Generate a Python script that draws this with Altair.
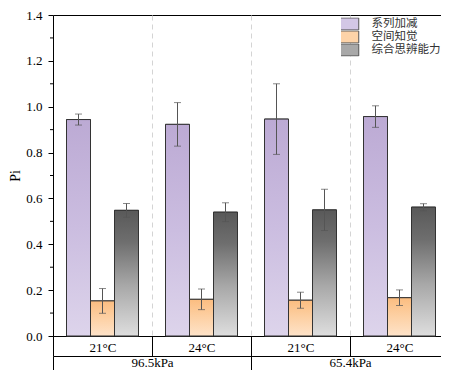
import altair as alt
import pandas as pd

groups = ["96.5kPa|21°C", "96.5kPa|24°C", "65.4kPa|21°C", "65.4kPa|24°C"]
pressures = ["96.5kPa", "65.4kPa"]
series = ["系列加减", "空间知觉", "综合思辨能力"]
means = {
    "系列加减": [0.944, 0.923, 0.946, 0.957],
    "空间知觉": [0.153, 0.160, 0.156, 0.167],
    "综合思辨能力": [0.548, 0.540, 0.550, 0.562],
}
errs = {
    "系列加减": [0.024, 0.095, 0.154, 0.047],
    "空间知觉": [0.054, 0.045, 0.035, 0.034],
    "综合思辨能力": [0.030, 0.041, 0.090, 0.015],
}
major_ticks = [0.0, 0.2, 0.4, 0.6, 0.8, 1.0, 1.2, 1.4]
minor_ticks = [0.1, 0.3, 0.5, 0.7, 0.9, 1.1, 1.3]

rows = []
for s in series:
    for g, m, e in zip(groups, means[s], errs[s]):
        rows.append({"group": g, "series": s, "mean": m, "lo": m - e, "hi": m + e})
df = pd.DataFrame(rows)
minor_df = pd.DataFrame({"v": minor_ticks})
press_df = pd.DataFrame({"pressure": pressures})

SERIF = "Liberation Serif"
LEGEND_FONT = "Liberation Serif, Noto Sans CJK SC"

y_axis = alt.Axis(values=major_ticks, format=".1f", title="Pi", titleFont=SERIF,
                  titleFontSize=14, titleFontWeight="normal", titleColor="black",
                  titlePadding=3, labelFont=SERIF, labelFontSize=13, labelColor="black",
                  labelPadding=6, tickSize=5, tickColor="black", domainColor="black",
                  grid=False)
y_scale = alt.Scale(domain=[0, 1.4], nice=False, zero=True)

x_axis = alt.Axis(orient="bottom", title=None, tickBand="extent", tickSize=20,
                  tickColor="black", domainColor="black", labelPadding=-15,
                  labelAngle=0, labelFont=SERIF, labelFontSize=13, labelColor="black",
                  labelExpr="split(datum.value, '|')[1]", grid=True,
                  gridColor="#d4d4d4", gridDash=[5, 4], gridWidth=1)
x_scale = alt.Scale(domain=groups, paddingInner=0, paddingOuter=0)
x_enc = alt.X("group:N", scale=x_scale, axis=x_axis)
xo_enc = alt.XOffset("series:N", scale=alt.Scale(domain=series, paddingInner=0, paddingOuter=0.5625))

base = alt.Chart(df)

legend_bars = base.mark_bar(stroke="#333333", strokeWidth=1).encode(
    x=x_enc, xOffset=xo_enc,
    y=alt.Y("mean:Q", scale=y_scale, axis=y_axis),
    color=alt.Color("series:N", scale=alt.Scale(domain=series,
                    range=["#d3c7e6", "#fdd3a8", "#a8a8a8"]),
                    legend=alt.Legend(title=None, orient="none", legendX=288, legendY=2.5,
                                      symbolType="M-4,-2H4V2H-4Z", symbolSize=36,
                                      symbolStrokeColor="#555555", symbolStrokeWidth=1,
                                      labelFont=LEGEND_FONT, labelFontSize=11.5,
                                      labelColor="#333333",
                                      labelOffset=19, rowPadding=0, padding=0,
                                      clipHeight=12.9)),
)

grads = {
    "系列加减": [("#bcaad4", 0), ("#cbbde0", 0.5), ("#ddd4eb", 1)],
    "空间知觉": [("#fbbd80", 0), ("#fdd1a5", 0.5), ("#fee3c9", 1)],
    "综合思辨能力": [("#595959", 0), ("#6e6e6e", 0.25), ("#a8a8a8", 0.6), ("#dedede", 1)],
}

grad_layers = []
for s in series:
    g = alt.LinearGradient(gradient="linear", x1=0, x2=0, y1=0, y2=1,
                           stops=[alt.GradientStop(color=c, offset=o) for c, o in grads[s]])
    grad_layers.append(
        base.transform_filter(alt.datum.series == s)
        .mark_bar(fill=g, stroke="#333333", strokeWidth=1)
        .encode(x=x_enc, xOffset=xo_enc,
                y=alt.Y("mean:Q", scale=y_scale, axis=y_axis))
    )

err_rule = base.mark_rule(color="#555555", strokeWidth=1).encode(
    x=x_enc, xOffset=xo_enc,
    y=alt.Y("lo:Q", scale=y_scale, axis=y_axis), y2="hi:Q")
cap_lo = base.mark_tick(color="#555555", thickness=1, size=7, orient="horizontal").encode(
    x=x_enc, xOffset=xo_enc, y=alt.Y("lo:Q", scale=y_scale, axis=y_axis))
cap_hi = base.mark_tick(color="#555555", thickness=1, size=7, orient="horizontal").encode(
    x=x_enc, xOffset=xo_enc, y=alt.Y("hi:Q", scale=y_scale, axis=y_axis))

minor = alt.Chart(minor_df).mark_rule(color="black", strokeWidth=1).encode(
    y=alt.Y("v:Q", scale=y_scale, axis=y_axis),
    x=alt.value(-3), x2=alt.value(0))

inner = alt.layer(legend_bars, *grad_layers, err_rule, cap_lo, cap_hi, minor)

press_axis = alt.Axis(orient="bottom", offset=20, title=None, tickBand="extent",
                      tickSize=20, tickColor="black", domainColor="black",
                      labelPadding=-19.7, labelAngle=0, labelFont=SERIF, labelFontSize=13,
                      labelColor="black", grid=False)
press = alt.Chart(press_df).mark_rule(opacity=0).encode(
    x=alt.X("pressure:N", scale=alt.Scale(domain=pressures, paddingInner=0, paddingOuter=0),
            axis=press_axis))

chart = alt.layer(inner, press).resolve_scale(x="independent").properties(
    width=396, height=321,
    autosize=alt.AutoSizeParams(type="none"),
    padding={"left": 45, "top": 7, "right": -8, "bottom": 34},
    background="white"
).configure_view(stroke="black", strokeWidth=1)

chart.save("out.html", embed_options={"renderer": "svg", "actions": False})
